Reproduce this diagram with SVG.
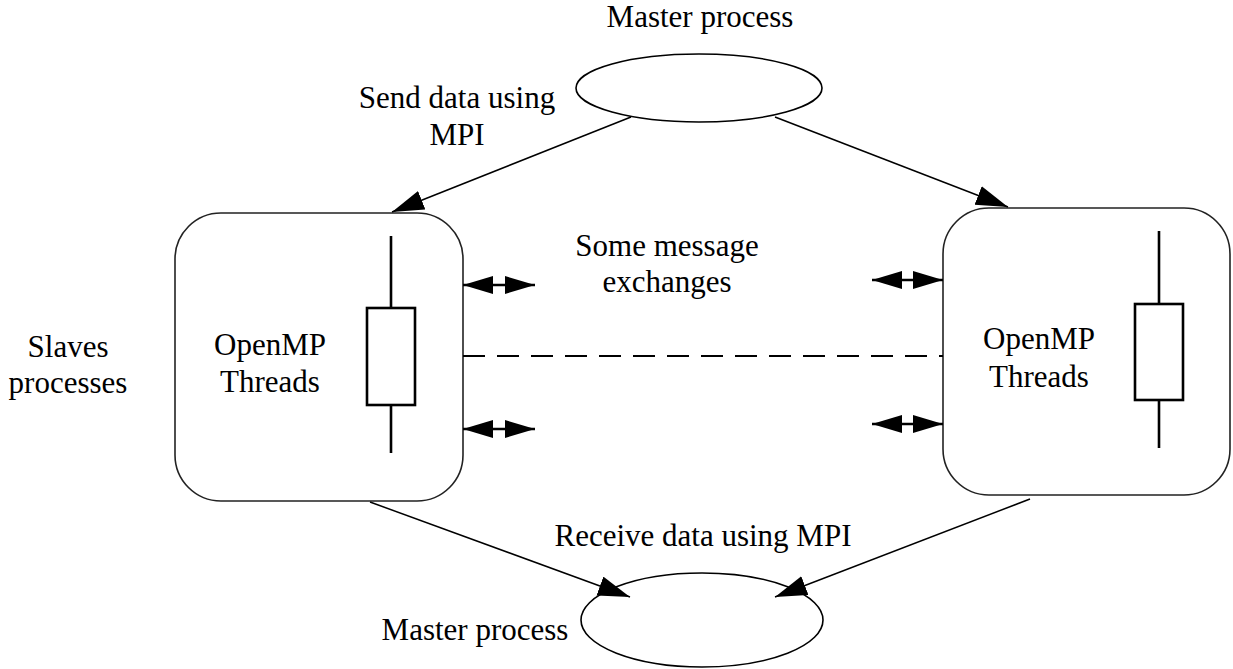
<svg xmlns="http://www.w3.org/2000/svg" width="1233" height="669" viewBox="0 0 1233 669">
  <style>
    text { font-family: "Liberation Serif", "DejaVu Serif", "Times New Roman", serif; font-size: 31px; fill: #000; }
    .mid { text-anchor: middle; }
    .box { fill: none; stroke: #222; stroke-width: 1.6; }
    .ell { fill: none; stroke: #000; stroke-width: 1.6; }
    .thread { fill: none; stroke: #000; stroke-width: 2.6; }
    .link { fill: none; stroke: #000; stroke-width: 1.5; }
    .xchg { fill: none; stroke: #000; stroke-width: 2.6; }
    .dash { fill: none; stroke: #000; stroke-width: 2; stroke-dasharray: 22 12; }
  </style>
  <defs>
    <marker id="head" markerUnits="userSpaceOnUse" markerWidth="34" markerHeight="22" refX="32" refY="10" orient="auto">
      <path d="M0,0 L32,10 L0,20 Z" fill="#000"/>
    </marker>
    <marker id="xhead" markerUnits="userSpaceOnUse" markerWidth="32" markerHeight="20" refX="30" refY="9" orient="auto-start-reverse">
      <path d="M0,0 L30,9 L0,18 Z" fill="#000"/>
    </marker>
  </defs>

  <!-- master process (sender) -->
  <g id="master-top">
    <ellipse class="ell" cx="699" cy="88" rx="123" ry="34"/>
    <text class="mid" x="700" y="27" font-size="30">Master process</text>
  </g>

  <!-- master process (receiver) -->
  <g id="master-bottom">
    <ellipse class="ell" cx="702" cy="620" rx="121" ry="47"/>
    <text class="mid" x="475" y="640">Master process</text>
  </g>

  <!-- slave process, left -->
  <g id="slave-left">
    <rect class="box" x="175" y="213" width="288" height="288" rx="46" ry="46"/>
    <line class="thread" x1="391" y1="236" x2="391" y2="308"/>
    <rect class="thread" x="367" y="308" width="48" height="97"/>
    <line class="thread" x1="391" y1="405" x2="391" y2="453"/>
    <text class="mid" x="270" y="355">OpenMP</text>
    <text class="mid" x="270" y="392">Threads</text>
  </g>

  <!-- slave process, right -->
  <g id="slave-right">
    <rect class="box" x="943" y="208" width="287" height="287" rx="46" ry="46"/>
    <line class="thread" x1="1159" y1="231" x2="1159" y2="304"/>
    <rect class="thread" x="1135" y="304" width="48" height="96"/>
    <line class="thread" x1="1159" y1="400" x2="1159" y2="448"/>
    <text class="mid" x="1039" y="349">OpenMP</text>
    <text class="mid" x="1039" y="387">Threads</text>
  </g>

  <!-- free labels -->
  <g id="labels">
    <text class="mid" x="457" y="108">Send data using</text>
    <text class="mid" x="457" y="145">MPI</text>
    <text class="mid" x="667" y="256">Some message</text>
    <text class="mid" x="667" y="292">exchanges</text>
    <text class="mid" x="68" y="357">Slaves</text>
    <text class="mid" x="68" y="393">processes</text>
    <text class="mid" x="703" y="546">Receive data using MPI</text>
  </g>

  <!-- connectors -->
  <g id="connectors">
    <line class="link" x1="631" y1="117" x2="392" y2="212" marker-end="url(#head)"/>
    <line class="link" x1="775" y1="117" x2="1008" y2="207" marker-end="url(#head)"/>
    <line class="link" x1="370" y1="502" x2="630" y2="597" marker-end="url(#head)"/>
    <line class="link" x1="1030" y1="499" x2="775" y2="597" marker-end="url(#head)"/>

    <line class="xchg" x1="463" y1="285" x2="535" y2="285" marker-start="url(#xhead)" marker-end="url(#xhead)"/>
    <line class="xchg" x1="463" y1="429" x2="535" y2="429" marker-start="url(#xhead)" marker-end="url(#xhead)"/>
    <line class="xchg" x1="872" y1="280" x2="943" y2="280" marker-start="url(#xhead)" marker-end="url(#xhead)"/>
    <line class="xchg" x1="872" y1="424" x2="943" y2="424" marker-start="url(#xhead)" marker-end="url(#xhead)"/>

    <line class="dash" x1="463" y1="356" x2="943" y2="356"/>
  </g>
</svg>
